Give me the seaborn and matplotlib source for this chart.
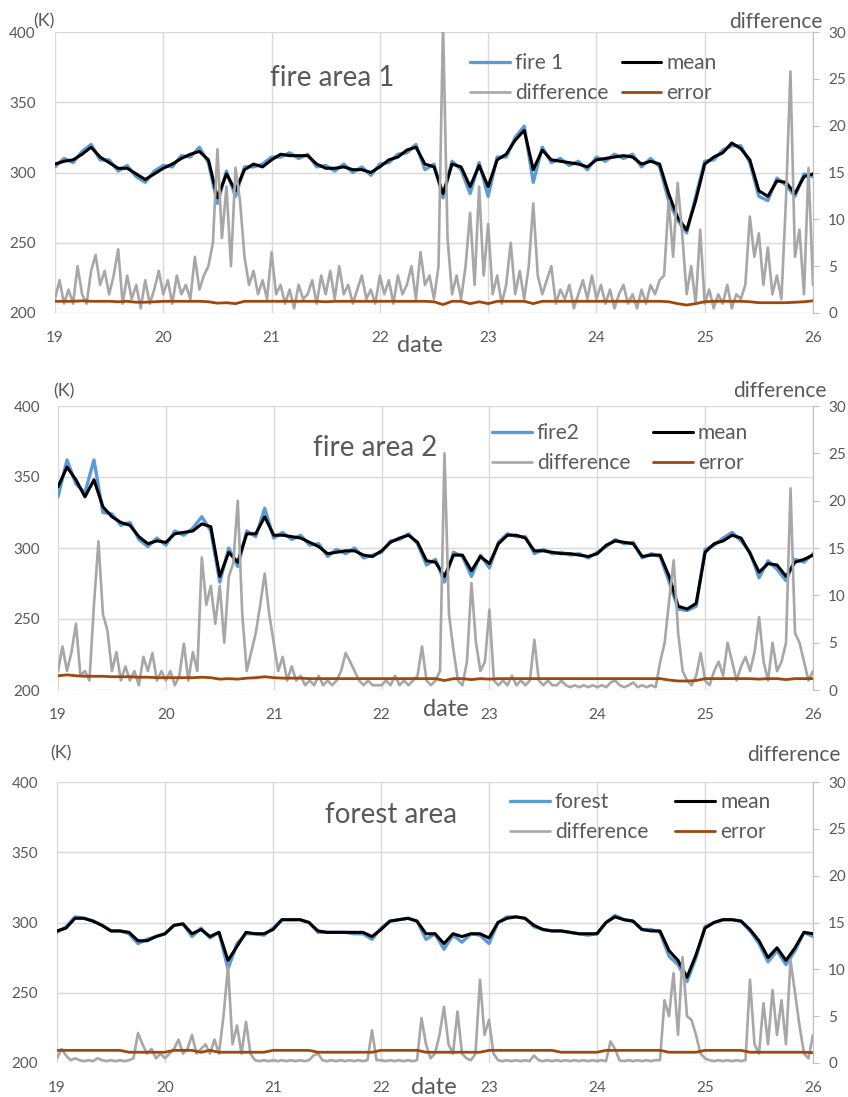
import numpy as np
import matplotlib
matplotlib.use("Agg")
import matplotlib.pyplot as plt
import seaborn as sns

sns.set_style("white")
plt.rcParams["font.family"] = ["Lato", "DejaVu Sans"]

# ---------------------------------------------------------------- data
# time axis: 19th .. 26th, 2-hourly for temperatures/error, hourly for difference
t2 = 19 + np.arange(85) / 12.0
t1 = 19 + np.arange(169) / 24.0

day_ticks = [19, 20, 21, 22, 23, 24, 25, 26]
k_ticks = [200, 250, 300, 350, 400]
diff_ticks = [0, 5, 10, 15, 20, 25, 30]

# fire area 1
fire1 = [304, 310, 307, 315, 320, 309, 309, 301, 305, 297, 293, 301,
         305, 304, 312, 311, 318, 307, 278, 301, 283, 304, 304, 306,
         311, 311, 314, 310, 313, 304, 305, 301, 306, 300, 304, 298,
         306, 307, 313, 314, 320, 302, 306, 282, 308, 302, 285, 307,
         283, 311, 311, 325, 333, 293, 318, 307, 310, 305, 308, 302,
         311, 308, 313, 310, 313, 304, 310, 304, 280, 266, 257, 283,
         308, 309, 316, 319, 319, 307, 283, 280, 296, 291, 283, 299,
         297]
mean1 = [306, 308, 309, 313, 318, 311, 307, 303, 303, 299, 295, 299,
         303, 306, 310, 313, 315, 309, 282, 299, 287, 302, 306, 304,
         309, 313, 312, 312, 312, 306, 303, 303, 304, 302, 302, 300,
         304, 309, 311, 316, 318, 306, 304, 285, 306, 304, 290, 305,
         290, 309, 313, 323, 330, 302, 316, 309, 308, 307, 306, 304,
         309, 310, 311, 312, 311, 306, 308, 306, 285, 268, 259, 280,
         306, 311, 314, 321, 317, 309, 287, 283, 294, 293, 285, 297,
         299]
diff1 = [1.5, 3.5, 1, 2.5, 1, 5, 2, 1, 4.5, 6.2, 3, 4.5, 2, 4, 6.8, 1, 4, 1.5, 3, 0.5, 3.5, 1, 2.5, 4.5,
         2, 3.5, 1, 4, 2, 3, 1.5, 6, 2.5, 4, 5, 7.5, 17.5, 8, 13.5, 5, 15.5, 12, 6, 3, 4.5, 2, 3.5, 1.5,
         6.5, 2, 3, 1, 2.5, 0.5, 3, 1.5, 2, 3.5, 1, 4, 2, 4.5, 1.5, 5, 2, 3, 1, 2.5, 4, 1.5, 2.5, 1,
         4, 2, 3.5, 1, 4, 2, 3, 5, 1.5, 6.5, 3, 4, 1.5, 5, 31, 8, 2, 4, 1.5, 5, 10.7, 3, 13.5, 4,
         9.5, 2, 4, 1, 3, 7.5, 2, 4.5, 1.5, 5, 11.7, 4, 2, 3.5, 5, 1, 2.5, 1.5, 3, 0.5, 2, 3.5, 1.5, 4,
         1.5, 3, 1, 2.5, 0.5, 2, 3, 1, 2, 0.5, 2.5, 1, 3, 2, 3.5, 4, 12, 6, 13.9, 8.5, 2, 5, 1, 8.9,
         1, 2.5, 0.5, 2, 1, 3, 0.5, 2, 1.5, 3, 10.3, 6, 8.5, 3, 7, 2, 4, 1.5, 12, 25.8, 6, 8.9, 2, 15.5, 3]
err1 = [1.25, 1.25, 1.25, 1.3, 1.25, 1.25, 1.25, 1.2, 1.25, 1.15, 1.15, 1.2,
        1.25, 1.25, 1.25, 1.25, 1.25, 1.2, 1.05, 1.1, 1.0, 1.25, 1.25, 1.25,
        1.25, 1.25, 1.25, 1.25, 1.25, 1.25, 1.2, 1.25, 1.25, 1.25, 1.25, 1.25,
        1.25, 1.25, 1.25, 1.25, 1.25, 1.25, 1.2, 0.9, 1.25, 1.25, 1.0, 1.2,
        1.0, 1.25, 1.25, 1.25, 1.25, 1.0, 1.25, 1.25, 1.25, 1.25, 1.25, 1.25,
        1.25, 1.25, 1.25, 1.25, 1.25, 1.25, 1.25, 1.25, 1.2, 1.0, 0.85, 1.0,
        1.2, 1.25, 1.25, 1.25, 1.25, 1.2, 1.1, 1.1, 1.1, 1.1, 1.15, 1.2,
        1.3]

# fire area 2
fire2 = [336, 362, 345, 339, 362, 325, 324, 316, 318, 306, 301, 307,
         302, 312, 309, 314, 322, 312, 276, 300, 287, 312, 308, 328,
         307, 311, 306, 309, 302, 303, 294, 299, 296, 300, 293, 295,
         297, 305, 306, 310, 303, 288, 292, 276, 297, 294, 280, 295,
         286, 304, 310, 308, 308, 296, 299, 296, 297, 295, 296, 293,
         297, 301, 306, 303, 304, 293, 296, 294, 276, 257, 256, 259,
         299, 302, 307, 311, 305, 297, 279, 291, 285, 277, 292, 290,
         296]
mean2 = [343, 357, 348, 336, 348, 329, 322, 318, 316, 308, 303, 305,
         304, 310, 311, 312, 317, 315, 280, 297, 290, 310, 310, 322,
         309, 309, 308, 307, 304, 301, 296, 297, 298, 298, 295, 294,
         298, 304, 307, 309, 304, 291, 290, 280, 295, 295, 284, 294,
         289, 303, 309, 309, 307, 298, 298, 297, 296, 296, 295, 294,
         296, 302, 305, 304, 303, 294, 295, 295, 280, 259, 257, 261,
         297, 303, 305, 309, 307, 296, 283, 289, 288, 280, 290, 292,
         295]
diff2 = [2, 4.6, 2, 4, 7, 1.5, 2, 1, 9, 15.7, 8, 6.3, 2, 4, 1, 2.5, 1, 2, 0.5, 3.5, 2, 3.9, 1, 2,
         1, 2, 0.5, 1.5, 4.9, 1, 4, 2, 14, 9, 11, 7, 11, 5, 12, 13.4, 20, 8, 2, 4, 6, 9, 12.3, 8,
         5, 2, 3.5, 1, 2.5, 1, 1.5, 0.5, 1, 0.5, 1.5, 0.5, 1, 0.5, 1, 2, 3.9, 3, 2, 1, 0.5, 1, 0.5, 0.5,
         0.5, 1, 0.5, 1.5, 0.5, 1, 0.5, 1, 1.5, 4.6, 1, 0.5, 1, 2, 25, 8, 4.2, 1, 0.5, 3, 11.3, 5, 2, 3,
         8.5, 1, 0.5, 1, 0.5, 1.5, 0.5, 1, 0.5, 1, 5.3, 1, 0.5, 1, 0.5, 0.5, 1, 0.5, 0.3, 0.5, 0.3, 0.5, 0.3, 0.5,
         0.3, 0.5, 0.3, 0.8, 1, 0.5, 0.3, 0.5, 0.8, 0.3, 0.5, 0.3, 0.5, 0.3, 3, 5, 9.5, 13.7, 6, 2, 1, 0.5, 1.5, 3.9,
         1, 0.5, 2, 3, 1.5, 5, 3, 1, 2.5, 3.5, 2, 4, 7.7, 3, 1, 5, 2, 3, 5, 21.3, 6, 5, 3, 1, 2]
err2 = [1.5, 1.6, 1.5, 1.45, 1.45, 1.45, 1.4, 1.4, 1.4, 1.35, 1.35, 1.3,
        1.3, 1.3, 1.3, 1.3, 1.35, 1.3, 1.15, 1.2, 1.15, 1.25, 1.3, 1.4,
        1.3, 1.25, 1.25, 1.25, 1.2, 1.2, 1.2, 1.2, 1.2, 1.2, 1.2, 1.2,
        1.2, 1.2, 1.2, 1.2, 1.2, 1.2, 1.2, 1.0, 1.2, 1.2, 1.1, 1.2,
        1.15, 1.2, 1.2, 1.2, 1.2, 1.2, 1.2, 1.2, 1.2, 1.2, 1.2, 1.2,
        1.2, 1.2, 1.2, 1.2, 1.2, 1.2, 1.2, 1.2, 1.05, 0.95, 0.95, 1.0,
        1.2, 1.2, 1.2, 1.2, 1.2, 1.2, 1.15, 1.2, 1.2, 1.1, 1.2, 1.2,
        1.2]

# forest area
fire3 = [293, 297, 304, 303, 301, 298, 294, 294, 292, 285, 288, 290,
         292, 298, 299, 290, 296, 289, 293, 267, 285, 292, 292, 291,
         296, 302, 302, 302, 300, 293, 293, 293, 293, 292, 292, 288,
         296, 301, 302, 303, 301, 288, 292, 281, 291, 286, 292, 291,
         285, 300, 304, 304, 303, 297, 295, 294, 294, 293, 292, 291,
         292, 300, 305, 302, 301, 295, 295, 293, 276, 270, 258, 275,
         297, 300, 302, 302, 301, 294, 285, 272, 280, 270, 280, 293,
         290]
mean3 = [294, 296, 303, 303, 301, 298, 294, 294, 293, 287, 287, 290,
         292, 298, 299, 292, 295, 290, 293, 273, 283, 293, 292, 292,
         295, 302, 302, 302, 300, 294, 293, 293, 293, 293, 293, 290,
         295, 301, 302, 303, 301, 292, 292, 285, 292, 290, 292, 292,
         289, 300, 303, 304, 303, 298, 295, 294, 294, 293, 292, 292,
         292, 300, 304, 302, 301, 295, 294, 294, 280, 273, 261, 277,
         296, 300, 302, 302, 301, 295, 287, 275, 282, 273, 282, 293,
         292]
diff3 = [0.5, 1.5, 0.8, 0.3, 0.5, 0.3, 0.2, 0.3, 0.2, 0.5, 0.3, 0.2, 0.3, 0.2, 0.3, 0.2, 0.3, 0.5, 3.2, 2, 1, 1.5, 0.5, 1,
         0.5, 1, 1.5, 2.5, 1, 1.5, 3, 1, 1.5, 2, 1, 2.5, 1, 5, 10.3, 2, 4, 1, 4.4, 1, 0.3, 0.2, 0.3, 0.2,
         0.3, 0.2, 0.3, 0.2, 0.3, 0.2, 0.3, 0.2, 0.3, 0.8, 1, 0.3, 0.2, 0.3, 0.2, 0.3, 0.2, 0.3, 0.2, 0.3, 0.2, 0.3, 3.5, 0.3,
         0.3, 0.2, 0.3, 0.2, 0.3, 0.2, 0.3, 0.2, 0.3, 4.8, 2, 0.5, 1, 3, 6, 2, 1, 5.5, 1, 0.5, 0.3, 1, 8.9, 3,
         4.6, 1, 0.3, 0.2, 0.3, 0.2, 0.3, 0.2, 0.3, 0.2, 0.8, 0.3, 0.2, 0.3, 0.2, 0.3, 0.2, 0.3, 0.2, 0.3, 0.2, 0.3, 0.2, 0.3,
         0.2, 0.3, 0.2, 2.3, 1.5, 0.3, 0.2, 0.3, 0.2, 0.3, 0.2, 0.3, 0.2, 0.3, 0.3, 6.7, 5, 9.6, 3, 11.3, 5, 4.6, 3, 1,
         0.5, 0.3, 0.2, 0.3, 0.2, 0.3, 0.2, 0.3, 0.2, 0.3, 8.9, 2, 1, 6.4, 2, 7.8, 3, 6.7, 2, 11, 7.5, 4, 1, 0.5, 3]
err3 = [1.35, 1.35, 1.35, 1.35, 1.35, 1.35, 1.35, 1.35, 1.15, 1.15, 1.15, 1.15,
        1.15, 1.35, 1.35, 1.35, 1.15, 1.35, 1.15, 1.15, 1.15, 1.15, 1.15, 1.15,
        1.35, 1.35, 1.35, 1.35, 1.35, 1.15, 1.15, 1.15, 1.15, 1.15, 1.15, 1.15,
        1.35, 1.35, 1.35, 1.35, 1.35, 1.15, 1.15, 1.15, 1.15, 1.15, 1.15, 1.15,
        1.35, 1.35, 1.35, 1.35, 1.35, 1.35, 1.35, 1.35, 1.15, 1.15, 1.15, 1.15,
        1.15, 1.35, 1.35, 1.35, 1.35, 1.35, 1.35, 1.35, 1.15, 1.15, 1.15, 1.15,
        1.35, 1.35, 1.35, 1.35, 1.35, 1.15, 1.15, 1.15, 1.15, 1.15, 1.15, 1.15,
        1.1]

# ---------------------------------------------------------------- style
W, H = 848, 1097
TEXT = "#595959"
GRID = "#D9D9D9"
SPINE = "#BFBFBF"
BLUE = "#5B9BD5"
GRAY = "#A8A6A6"
BROWN = "#9E480E"


def fx(x):
    return x / W


def fy(y):
    return 1 - y / H


panels = [
    dict(box=(55, 32, 813, 313), fire=fire1, mean=mean1, diff=diff1, err=err1,
         name="fire 1", title="fire area 1", title_xy=(270, 78),
         k_xy=(33, 21), d_xy=(822, 22), date_xy=(420, 345),
         leg_xy=(470, 53), colsp=0.65, ypad=14),
    dict(box=(58, 406, 813, 690), fire=fire2, mean=mean2, diff=diff2, err=err2,
         name="fire2", title="fire area 2", title_xy=(313, 448),
         k_xy=(53, 391), d_xy=(827, 391), date_xy=(446, 710),
         leg_xy=(492, 423), colsp=1.1, ypad=13),
    dict(box=(57, 782, 813, 1063), fire=fire3, mean=mean3, diff=diff3, err=err3,
         name="forest", title="forest area", title_xy=(325, 815),
         k_xy=(50, 753), d_xy=(840, 755), date_xy=(434, 1087),
         leg_xy=(510, 792), colsp=1.3, ypad=13.5),
]

fig = plt.figure(figsize=(W / 100, H / 100), dpi=100)

for p in panels:
    l, t, r, b = p["box"]
    ax = fig.add_axes([fx(l), fy(b), (r - l) / W, (b - t) / H])
    ax2 = ax.twinx()

    sns.lineplot(x=t2, y=p["fire"], ax=ax, color=BLUE, linewidth=2.4)
    sns.lineplot(x=t2, y=p["mean"], ax=ax, color="black", linewidth=2.2)
    sns.lineplot(x=t1, y=p["diff"], ax=ax2, color=GRAY, linewidth=1.9)
    sns.lineplot(x=t2, y=p["err"], ax=ax2, color=BROWN, linewidth=2.0)

    ax.set_xlim(19, 26)
    ax.set_ylim(200, 400)
    ax.set_xticks(day_ticks)
    ax.set_yticks(k_ticks)
    ax.set_xlabel("")
    ax.set_ylabel("")
    ax.set_axisbelow(True)
    ax.grid(True, color=GRID, linewidth=1.0)
    for s in ax.spines.values():
        s.set_visible(False)
    ax.tick_params(axis="x", length=0, labelsize=11, labelcolor=TEXT, pad=13)
    ax.tick_params(axis="y", length=0, labelsize=11, labelcolor=TEXT, pad=p["ypad"])

    ax2.set_ylim(0, 30)
    ax2.set_yticks(diff_ticks)
    ax2.set_ylabel("")
    ax2.grid(False)
    for name, s in ax2.spines.items():
        s.set_visible(name == "right")
    ax2.spines["right"].set_color(SPINE)
    ax2.tick_params(axis="y", direction="out", length=4, color=SPINE,
                    labelsize=11, labelcolor=TEXT, pad=7)

    handles = [ax.lines[0], ax2.lines[0], ax.lines[1], ax2.lines[1]]
    labels = [p["name"], "difference", "mean", "error"]
    ax2.legend(handles, labels, loc="upper left",
               bbox_to_anchor=(fx(p["leg_xy"][0]), fy(p["leg_xy"][1])),
               bbox_transform=fig.transFigure, ncol=2, frameon=False,
               fontsize=15, labelcolor=TEXT, borderpad=0, borderaxespad=0,
               handlelength=1.9, handletextpad=0.25, columnspacing=p["colsp"],
               labelspacing=0.5)

    fig.text(fx(p["title_xy"][0]), fy(p["title_xy"][1]), p["title"],
             fontsize=20, color=TEXT, ha="left", va="center")
    fig.text(fx(p["k_xy"][0]), fy(p["k_xy"][1]), "(K)",
             fontsize=13, color=TEXT, ha="left", va="center")
    fig.text(fx(p["d_xy"][0]), fy(p["d_xy"][1]), "difference",
             fontsize=15, color=TEXT, ha="right", va="center")
    fig.text(fx(p["date_xy"][0]), fy(p["date_xy"][1]), "date",
             fontsize=17, color=TEXT, ha="center", va="center")

fig.savefig("out.png", dpi=100, facecolor="white")
